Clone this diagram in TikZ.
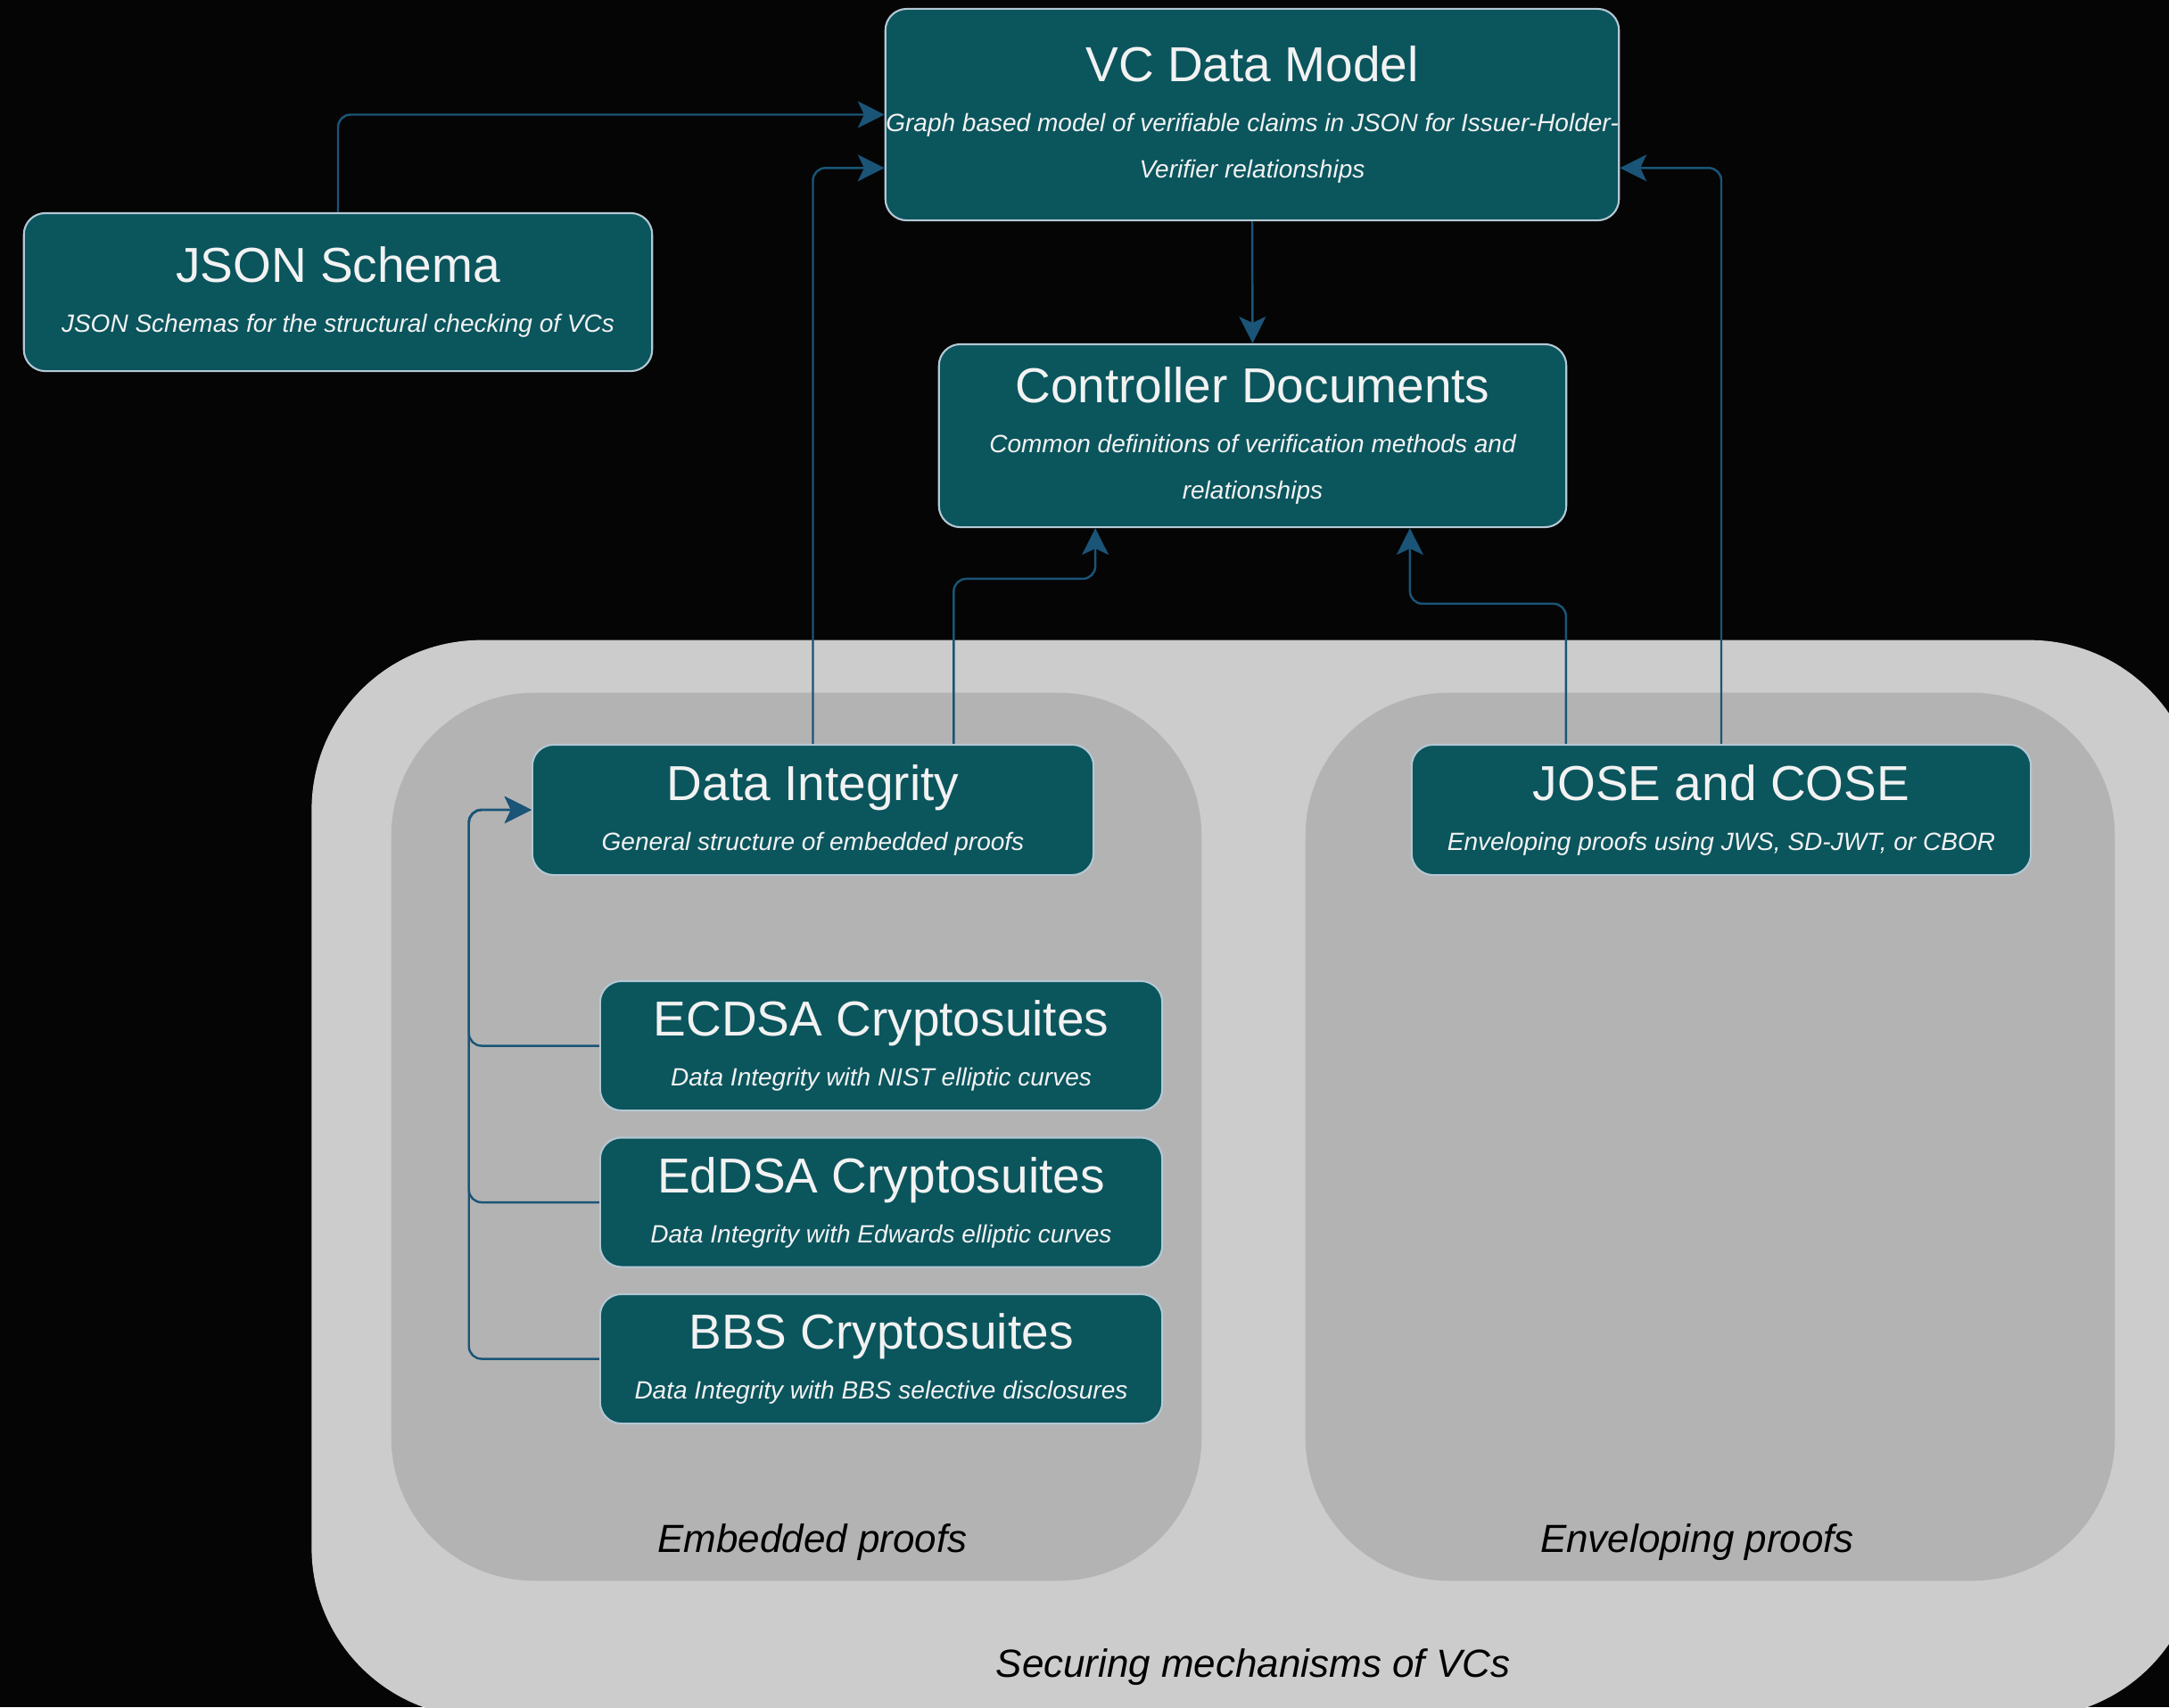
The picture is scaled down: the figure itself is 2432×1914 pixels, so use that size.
\documentclass[tikz,border=0pt]{standalone}
\usepackage{fontspec}
\setmainfont{Liberation Sans}
\usetikzlibrary{arrows.meta,calc}

\definecolor{backdrop}{HTML}{050505}
\definecolor{cardfill}{HTML}{0B555D}
\definecolor{cardline}{HTML}{B4C8D4}
\definecolor{cardtext}{HTML}{F2F2F2}
\definecolor{linkblue}{HTML}{1A5477}
\definecolor{outerfill}{HTML}{CCCCCC}
\definecolor{innerfill}{HTML}{B3B3B3}

\newcommand{\cardsub}{\fontsize{7.97}{14.8}\selectfont\itshape}

\begin{document}
\begin{tikzpicture}[x=0.01cm, y=-0.01cm, >={Stealth[length=8.5pt,width=8.5pt,inset=2pt]},
  card/.style={draw=cardline, line width=0.6pt, fill=cardfill, text=cardtext, rounded corners=6.8pt,
    inner sep=0pt, align=center, font=\fontsize{15.65}{14.8}\selectfont},
  cluster/.style={fill=#1, inner sep=0pt},
  cluster label/.style={anchor=base, text=black, font=\fontsize{12.5}{15}\selectfont\itshape},
  link/.style={->, draw=linkblue, line width=0.7pt, rounded corners=4pt}]

\clip (0,0) rectangle (2432,1914);
\fill [backdrop] (0,0) rectangle (2432,1914);

\node [cluster=outerfill, minimum width=21.15cm, minimum height=12.07cm, rounded corners=1.9cm] (securing) at (1407.5,1321.5) {};
\node [cluster=innerfill, minimum width=9.08cm, minimum height=9.95cm, rounded corners=1.6cm] (embedded) at (893,1274.5) {};
\node [cluster=innerfill, minimum width=9.07cm, minimum height=9.95cm, rounded corners=1.6cm] (enveloping) at (1917.5,1274.5) {};

\node [cluster label] (embedded-label) at (911,1740) {Embedded proofs};
\node [cluster label] (enveloping-label) at (1903,1740) {Enveloping proofs};
\node [cluster label] (securing-label) at (1405,1880) {Securing mechanisms of VCs};

\node [card, minimum width=8.22cm, minimum height=2.37cm] (vc) at (1404,128.5)
  {VC Data Model\\[1.1pt]\cardsub Graph based model of verifiable claims in JSON for Issuer-Holder-\\\cardsub Verifier relationships};
\node [card, minimum width=7.04cm, minimum height=1.77cm] (schema) at (379,327.5)
  {JSON Schema\\[1.1pt]\cardsub JSON Schemas for the structural checking of VCs};
\node [card, minimum width=7.03cm, minimum height=2.05cm] (ctrl) at (1404.5,488.5)
  {Controller Documents\\[1.1pt]\cardsub Common definitions of verification methods and\\\cardsub relationships};
\node [card, minimum width=6.29cm, minimum height=1.46cm] (di) at (911.5,908)
  {Data Integrity\\[1.1pt]\cardsub General structure of embedded proofs};
\node [card, minimum width=6.94cm, minimum height=1.46cm] (jose) at (1930,908)
  {JOSE and COSE\\[1.1pt]\cardsub Enveloping proofs using JWS, SD-JWT, or CBOR};

\foreach \n/\t/\d [count=\i] in {ecdsa/ECDSA/NIST elliptic curves,eddsa/EdDSA/Edwards elliptic curves,bbs/BBS/BBS selective disclosures}
  \node [card, minimum width=6.3cm, minimum height=1.45cm] (\n) at (988,997+\i*175.5)
    {\t{} Cryptosuites\\[1.1pt]\cardsub Data Integrity with \d};

\draw [link] (schema.north) |- (vc.west);
\draw [link] (vc.south) -- (ctrl.north);
\draw [link] (di.north) |- ($(vc.south west)!.25!(vc.north west)$);
\draw [link] (jose.north) |- ($(vc.south east)!.25!(vc.north east)$);
\draw [link] ($(di.north west)!.75!(di.north east)$) -- ++(0,-185)
  -| ($(ctrl.south west)!.25!(ctrl.south east)$);
\draw [link] ($(jose.north west)!.25!(jose.north east)$) -- ++(0,-157)
  -| ($(ctrl.south west)!.75!(ctrl.south east)$);

\foreach \n in {ecdsa,eddsa,bbs}
  \draw [link] (\n.west) -- ++(-146,0) |- (di.west);

\end{tikzpicture}
\end{document}
